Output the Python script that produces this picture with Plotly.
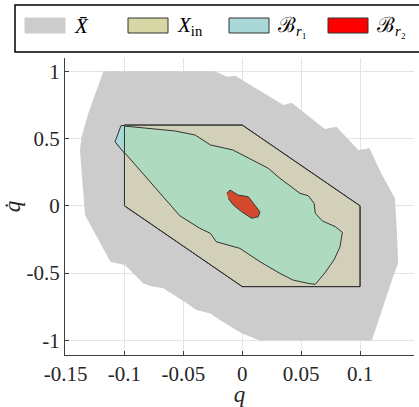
import plotly.graph_objects as go

# ---- data ----
xbar_q = [-0.1165, -0.023, -0.013, -0.006, 0.035, 0.042, 0.070, 0.080, 0.0985, 0.108, 0.118, 0.1296,
          0.131, 0.1324, 0.128, 0.110, 0.110, 0.015, 0.0065, -0.0005, -0.019, -0.027, -0.039, -0.047,
          -0.067, -0.078, -0.084, -0.0996, -0.112, -0.121, -0.131, -0.1335, -0.1378, -0.1364, -0.1307, -0.118]
xbar_qd = [1.0, 1.0, 0.959, 0.967, 0.749, 0.766, 0.571, 0.588, 0.415, 0.427, 0.241, 0.056,
           -0.15, -0.427, -0.527, -0.992, -1.0, -1.0, -0.972, -0.947, -0.848, -0.80, -0.774, -0.724,
           -0.613, -0.596, -0.576, -0.44, -0.415, -0.267, -0.105, -0.068, 0.415, 0.513, 0.687, 0.996]

xin_q = [-0.1, 0.0, 0.1, 0.1, 0.0, -0.1, -0.1]
xin_qd = [0.6, 0.6, 0.0, -0.6, -0.6, 0.0, 0.6]

br1_q = [-0.103, -0.057, -0.040, -0.027, -0.008, 0.022, 0.032, 0.049, 0.056, 0.061, 0.062, 0.068,
         0.079, 0.085, 0.083, 0.078, 0.070, 0.062, 0.056, 0.043, 0.032, 0.015, -0.002, -0.022,
         -0.027, -0.036, -0.053, -0.099, -0.108]
br1_qd = [0.595, 0.556, 0.526, 0.452, 0.415, 0.279, 0.204, 0.093, 0.075, 0.018, -0.056, -0.112,
          -0.155, -0.197, -0.304, -0.40, -0.50, -0.583, -0.576, -0.551, -0.502, -0.415, -0.316, -0.267,
          -0.205, -0.167, -0.074, 0.39, 0.476]

# part of B_r1 lying outside X_in (seen as pure cyan over the grey set)
br1_out_q = [-0.1, -0.103, -0.108, -0.1]
br1_out_qd = [0.598, 0.595, 0.476, 0.39]

br2_q = [-0.0132, -0.0104, -0.0034, 0.0051, 0.015, 0.0136, 0.008, -0.0005, -0.0076, -0.0119]
br2_qd = [0.093, 0.117, 0.080, 0.068, -0.044, -0.081, -0.093, -0.044, 0.006, 0.056]

x_ticks = [-0.15, -0.1, -0.05, 0, 0.05, 0.1]
x_ticktext = ["-0.15", "-0.1", "-0.05", "0", "0.05", "0.1"]
y_ticks = [-1, -0.5, 0, 0.5, 1]
y_ticktext = ["-1", "-0.5", "0", "0.5", "1"]

legend_names = ["<i>X\u0304</i>", "<i>X</i><sub>in</sub>",
                "\u212C<sub><i>r</i>\u2081</sub>", "\u212C<sub><i>r</i>\u2082</sub>"]
legend_colors = ["#cccccc", "#d7d7a5", "#a8d8d8", "#ff0000"]

FONT = "Liberation Serif"
EDGE = "#333333"
fig = go.Figure()
fig.add_trace(go.Scatter(x=xbar_q, y=xbar_qd, fill="toself", mode="lines",
                         fillcolor="#cccccc", line=dict(width=0), hoverinfo="skip"))
fig.add_trace(go.Scatter(x=xin_q, y=xin_qd, fill="toself", mode="lines",
                         fillcolor="#d2d0b8", line=dict(color=EDGE, width=1), hoverinfo="skip"))
fig.add_trace(go.Scatter(x=br1_q, y=br1_qd, fill="toself", mode="lines",
                         fillcolor="#aedbbf", line=dict(color=EDGE, width=1), hoverinfo="skip"))
fig.add_trace(go.Scatter(x=br1_out_q, y=br1_out_qd, fill="toself", mode="lines",
                         fillcolor="#a8d8d8", line=dict(color=EDGE, width=1), hoverinfo="skip"))
fig.add_trace(go.Scatter(x=xin_q, y=xin_qd, mode="lines",
                         line=dict(color=EDGE, width=1), hoverinfo="skip"))
fig.add_trace(go.Scatter(x=br2_q, y=br2_qd, fill="toself", mode="lines",
                         fillcolor="#d4482d", line=dict(color="#2f3f35", width=1), hoverinfo="skip"))

# manual legend (paper coords derived from pixel layout)
L, R, T, B = 65, 414, 58, 355
def px(x):
    return (x - L) / (R - L)
def py(y):
    return (B - y) / (B - T)

fig.add_shape(type="rect", xref="paper", yref="paper", x0=px(15), x1=px(430), y0=py(52), y1=py(5),
              line=dict(color="black", width=1.5), fillcolor="white", layer="above")
sw_x = [25, 128, 229, 328]
for i, (name, col) in enumerate(zip(legend_names, legend_colors)):
    fig.add_shape(type="rect", xref="paper", yref="paper", x0=px(sw_x[i]), x1=px(sw_x[i] + 40),
                  y0=py(33), y1=py(18), fillcolor=col,
                  line=dict(color=EDGE if i > 0 else col, width=1), layer="above")
    fig.add_annotation(xref="paper", yref="paper", x=px(sw_x[i] + 47), y=py(26), text=name,
                       showarrow=False, xanchor="left", yanchor="middle",
                       font=dict(family=FONT, size=21, color="black"))

fig.update_layout(
    width=419, height=407, margin=dict(l=L, r=419 - R, t=T, b=407 - B),
    paper_bgcolor="white", plot_bgcolor="white", showlegend=False,
    font=dict(family=FONT, size=21, color="#262626"),
    xaxis=dict(range=[-0.1505, 0.1458], tickvals=x_ticks, ticktext=x_ticktext,
               showgrid=True, gridcolor="#e4e4e4", gridwidth=1, zeroline=False,
               showline=True, linecolor="#404040", linewidth=1, ticks="inside", ticklen=4,
               tickcolor="#404040", title=dict(text="<i>q</i>", font=dict(family=FONT, size=23), standoff=0)),
    yaxis=dict(range=[-1.108, 1.098], tickvals=y_ticks, ticktext=y_ticktext,
               showgrid=True, gridcolor="#e4e4e4", gridwidth=1, zeroline=False,
               showline=True, linecolor="#404040", linewidth=1, ticks="inside", ticklen=4,
               tickcolor="#404040", title=dict(text="<i>q\u0307</i>", font=dict(family=FONT, size=23), standoff=4)),
)
fig.write_html("out.html")
